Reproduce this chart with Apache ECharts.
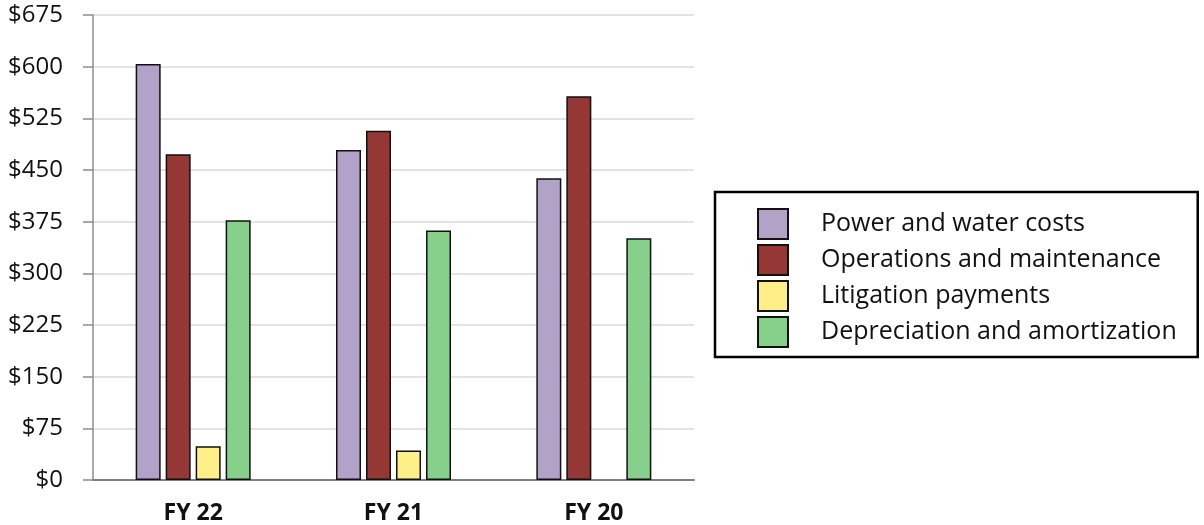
<!DOCTYPE html>
<html>
<head>
<meta charset="utf-8">
<script src="https://cdn.jsdelivr.net/npm/echarts@6/dist/echarts.min.js"></script>
<style>
  html, body { margin: 0; padding: 0; background: #fff; }
  #chart { width: 1204px; height: 525px; }
</style>
</head>
<body>
<div id="chart"></div>
<script>
// data ($)
const categories = ['FY 22', 'FY 21', 'FY 20']
const powerWater = [604, 479, 438]
const operations = [473, 507, 557]
const litigation = [49, 43, null]
const depreciation = [377, 362, 351]
const seriesNames = ['Power and water costs', 'Operations and maintenance', 'Litigation payments', 'Depreciation and amortization']
const seriesColors = ['#b2a2c7', '#953735', '#ffef88', '#87d08b']

const chart = echarts.init(document.getElementById('chart'))

const makeBar = (name, data, color) => ({
  name: name,
  type: 'bar',
  data: data,
  barWidth: 25,
  barGap: '20%',
  itemStyle: { color: color, borderColor: '#111', borderWidth: 1.5 }
})

const option = {
  animation: false,
  textStyle: { fontFamily: 'Open Sans' },
  grid: { left: 93, right: 510, top: 15, bottom: 45 },
  legend: {
    orient: 'vertical',
    left: 715,
    top: 192,
    icon: 'rect',
    itemWidth: 30,
    itemHeight: 30,
    itemGap: 4,
    padding: [16, 21, 9, 42],
    borderColor: '#000',
    borderWidth: 2.5,
    textStyle: { fontSize: 25, lineHeight: 30, color: '#111', padding: [0, 0, 0, 28], fontFamily: 'Open Sans' },
    data: seriesNames
  },
  xAxis: {
    type: 'category',
    data: categories,
    axisLine: { lineStyle: { color: '#808080', width: 2 } },
    axisTick: { show: false },
    axisLabel: { fontSize: 23, fontWeight: 'bold', color: '#111', margin: 22 }
  },
  yAxis: {
    type: 'value',
    min: 0,
    max: 675,
    interval: 75,
    axisLine: { show: true, lineStyle: { color: '#8c8c8c', width: 1.5 } },
    axisTick: { show: true, length: 10, lineStyle: { color: '#8c8c8c', width: 1.5 } },
    splitLine: { lineStyle: { color: '#e3e3e3', width: 2 } },
    axisLabel: { fontSize: 24, color: '#111', margin: 30, formatter: v => '$' + v }
  },
  series: [
    makeBar(seriesNames[0], powerWater, seriesColors[0]),
    makeBar(seriesNames[1], operations, seriesColors[1]),
    makeBar(seriesNames[2], litigation, seriesColors[2]),
    makeBar(seriesNames[3], depreciation, seriesColors[3])
  ]
}

chart.setOption(option)
</script>
</body>
</html>
